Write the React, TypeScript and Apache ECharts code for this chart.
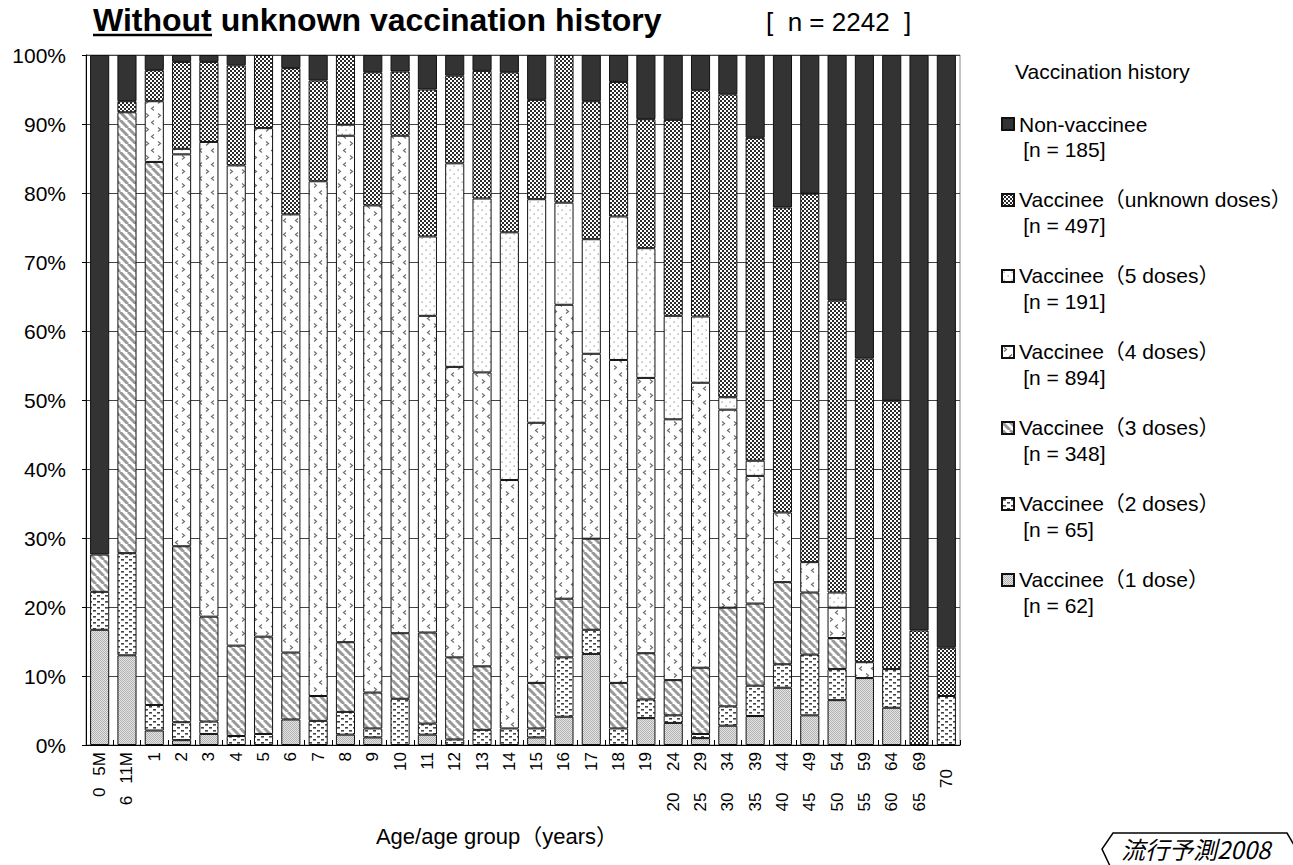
import React, { useEffect, useRef } from 'react';
import * as echarts from 'echarts';

const B = '\u3000 ';
const M = '\u2002\u2009';
const categories = [
  '0' + M + '5M', '6' + M + '11M', '1', '2', '3', '4', '5', '6', '7', '8', '9', '10',
  '11', '12', '13', '14', '15', '16', '17', '18', '19',
  '20' + B + '24', '25' + B + '29', '30' + B + '34', '35' + B + '39', '40' + B + '44',
  '45' + B + '49', '50' + B + '54', '55' + B + '59', '60' + B + '64', '65' + B + '69', '70\u3000',
];

const dose1 = [16.7, 13.0, 2.1, 0.7, 1.6, 0, 0, 3.7, 0, 1.5, 1.1, 0, 1.5, 0, 0, 0, 1.1, 4.1, 13.2, 0, 3.9, 3.2, 1.0, 2.8, 4.2, 8.3, 4.3, 6.5, 9.7, 5.4, 0, 0];
const dose2 = [5.5, 14.8, 3.7, 2.6, 1.8, 1.3, 1.6, 0, 3.5, 3.3, 1.3, 6.7, 1.6, 0.8, 2.2, 2.4, 1.3, 8.6, 3.5, 2.4, 2.7, 1.1, 0.6, 2.8, 4.4, 3.4, 8.8, 4.5, 0, 5.6, 0, 7.1];
const dose3 = [5.4, 63.9, 78.7, 25.5, 15.2, 13.1, 14.1, 9.7, 3.6, 10.1, 5.2, 9.5, 13.2, 11.9, 9.2, 0, 6.6, 8.5, 13.2, 6.6, 6.7, 5.1, 9.6, 14.3, 11.9, 11.9, 9.0, 4.5, 0, 0, 0, 0];
const dose4 = [0, 0, 8.8, 56.8, 68.8, 69.6, 73.7, 63.5, 74.6, 73.4, 70.6, 72.1, 45.9, 42.1, 42.6, 36.0, 37.7, 42.6, 26.8, 46.8, 39.9, 37.8, 41.3, 28.7, 18.5, 10.1, 4.4, 4.4, 2.3, 0, 0, 0];
const dose5 = [0, 0, 0, 0.8, 0, 0, 0, 0, 0, 1.6, 0, 0, 11.5, 29.5, 25.2, 35.9, 32.4, 14.8, 16.6, 20.8, 18.8, 15.0, 9.6, 1.8, 2.2, 0, 0, 2.2, 0, 0, 0, 0];
const unknownDoses = [0, 1.6, 4.5, 12.6, 11.6, 14.5, 10.6, 21.2, 14.6, 10.1, 19.3, 9.3, 21.3, 12.7, 18.5, 23.2, 14.4, 21.4, 20.0, 19.5, 18.7, 28.4, 32.8, 43.9, 46.8, 44.2, 53.4, 42.3, 44.0, 38.9, 16.6, 7.0];
const nonVaccinee = [72.4, 6.7, 2.2, 1.0, 1.0, 1.5, 0, 1.9, 3.7, 0, 2.5, 2.4, 5.0, 3.0, 2.3, 2.5, 6.5, 0, 6.7, 3.9, 9.3, 9.4, 5.1, 5.7, 12.0, 22.1, 20.1, 35.6, 44.0, 50.1, 83.4, 85.9];

const seriesNames = [
  'Vaccinee（1 dose）',
  'Vaccinee（2 doses）',
  'Vaccinee（3 doses）',
  'Vaccinee（4 doses）',
  'Vaccinee（5 doses）',
  'Vaccinee（unknown doses）',
  'Non-vaccinee',
];
const seriesCounts = [62, 65, 348, 894, 191, 497, 185];
const seriesData = [dose1, dose2, dose3, dose4, dose5, unknownDoses, nonVaccinee];
const yTicks = [0, 100, 10];

const FONT = '"Liberation Sans", Arial, "Noto Sans CJK JP", sans-serif';

function makeCanvas(w: number, h: number, draw: (ctx: CanvasRenderingContext2D) => void) {
  const c = document.createElement('canvas');
  c.width = w;
  c.height = h;
  const ctx = c.getContext('2d') as CanvasRenderingContext2D;
  draw(ctx);
  return { image: c, repeat: 'repeat', imageWidth: w, imageHeight: h } as any;
}

function buildPatterns() {
  const p1 = makeCanvas(2, 2, (ctx) => {
    ctx.fillStyle = '#e4e4e4';
    ctx.fillRect(0, 0, 2, 2);
    ctx.fillStyle = '#b2b2b2';
    ctx.fillRect(0, 0, 1, 1);
    ctx.fillRect(1, 1, 1, 1);
  });
  const p2 = makeCanvas(8, 6, (ctx) => {
    ctx.fillStyle = '#ffffff';
    ctx.fillRect(0, 0, 8, 6);
    ctx.fillStyle = '#444444';
    ctx.fillRect(1, 1, 3, 1.6);
    ctx.fillRect(5, 4, 3, 1.6);
  });
  const p3 = makeCanvas(8, 8, (ctx) => {
    ctx.fillStyle = '#ffffff';
    ctx.fillRect(0, 0, 8, 8);
    ctx.strokeStyle = '#9a9a9a';
    ctx.lineWidth = 3;
    ctx.beginPath();
    ctx.moveTo(-8, 0); ctx.lineTo(0, 8);
    ctx.moveTo(0, 0); ctx.lineTo(8, 8);
    ctx.moveTo(8, 0); ctx.lineTo(16, 8);
    ctx.moveTo(-4, -4); ctx.lineTo(12, 12);
    ctx.stroke();
  });
  const p4 = makeCanvas(12, 14, (ctx) => {
    ctx.fillStyle = '#ffffff';
    ctx.fillRect(0, 0, 12, 14);
    ctx.strokeStyle = '#707070';
    ctx.lineWidth = 1.2;
    ctx.beginPath();
    ctx.moveTo(2, 1.5); ctx.lineTo(4.5, 3.5); ctx.lineTo(2, 5.5);
    ctx.moveTo(10, 8.5); ctx.lineTo(7.5, 10.5); ctx.lineTo(10, 12.5);
    ctx.stroke();
  });
  const p5 = makeCanvas(8, 8, (ctx) => {
    ctx.fillStyle = '#ffffff';
    ctx.fillRect(0, 0, 8, 8);
    ctx.fillStyle = '#9a9a9a';
    ctx.fillRect(1.5, 1.5, 1.3, 1.3);
    ctx.fillRect(5.5, 5.5, 1.3, 1.3);
  });
  const pU = makeCanvas(4, 4, (ctx) => {
    ctx.fillStyle = '#ffffff';
    ctx.fillRect(0, 0, 4, 4);
    ctx.fillStyle = '#2a2a2a';
    ctx.fillRect(0, 0, 2, 2);
    ctx.fillRect(2, 2, 2, 2);
  });
  return [p1, p2, p3, p4, p5, pU, '#333333'];
}

export default function App() {
  const ref = useRef<HTMLDivElement>(null);

  useEffect(() => {
    if (!ref.current) return;
    const chart = echarts.init(ref.current, null, { renderer: 'svg' });
    const patterns = buildPatterns();

    const series = seriesNames.map((name, i) => ({
      name,
      type: 'bar',
      stack: 'total',
      barWidth: '70%',
      data: seriesData[i].map((v) => (v === 0 ? '-' : v)),
      itemStyle: {
        color: patterns[i],
        borderColor: '#111111',
        borderWidth: 1,
      },
      emphasis: { disabled: true },
    }));

    const legendOrder = [...seriesNames].reverse();

    chart.setOption({
      animation: false,
      textStyle: { fontFamily: FONT, color: '#000' },
      title: [
        {
          text: 'Without unknown vaccination history',
          left: 93,
          top: 4,
          padding: 0,
          textStyle: { fontSize: 32, fontWeight: 'bold', color: '#000', fontFamily: FONT },
        },
        {
          text: '[\u00a0\u00a0n = 2242\u00a0\u00a0]',
          left: 766,
          top: 9,
          padding: 0,
          textStyle: { fontSize: 26, fontWeight: 'normal', color: '#000', fontFamily: FONT },
        },
        {
          text: 'Vaccination history',
          left: 1015,
          top: 61,
          padding: 0,
          textStyle: { fontSize: 21, fontWeight: 'normal', color: '#000', fontFamily: FONT },
        },
      ],
      legend: {
        orient: 'vertical',
        left: 1001,
        top: 88,
        padding: 0,
        icon: 'rect',
        itemWidth: 12,
        itemHeight: 12,
        itemGap: 4,
        selectedMode: false,
        data: legendOrder,
        formatter: (name: string) => {
          const idx = seriesNames.indexOf(name);
          return '{e| }\n{a|' + name + '}\n{b|\u2009[n = ' + seriesCounts[idx] + ']}';
        },
        textStyle: {
          fontFamily: FONT,
          fontSize: 21,
          color: '#000',
          rich: {
            e: { lineHeight: 25, fontSize: 21, fontFamily: FONT },
            a: { lineHeight: 26, fontSize: 21, fontFamily: FONT, color: '#000' },
            b: { lineHeight: 25, fontSize: 21, fontFamily: FONT, color: '#000' },
          },
        },
      },
      grid: {
        left: 86,
        right: 333,
        top: 55,
        bottom: 120,
        show: true,
        borderColor: '#888888',
        borderWidth: 1,
        containLabel: false,
      },
      xAxis: {
        type: 'category',
        data: categories,
        name: 'Age/age group（years）',
        nameLocation: 'middle',
        nameGap: 80,
        nameTextStyle: { fontSize: 22, color: '#000', fontFamily: FONT, padding: [0, 52, 0, 0] },
        axisLine: { show: true, lineStyle: { color: '#000', width: 1 } },
        axisTick: { show: true, inside: true, length: 5, lineStyle: { color: '#000' } },
        axisLabel: {
          interval: 0,
          rotate: 90,
          fontSize: 17,
          color: '#000',
          margin: 7,
          fontFamily: FONT,
        },
      },
      yAxis: {
        type: 'value',
        min: yTicks[0],
        max: yTicks[1],
        interval: yTicks[2],
        axisLine: { show: true, lineStyle: { color: '#000', width: 1 } },
        axisTick: { show: true, length: 4, lineStyle: { color: '#000' } },
        axisLabel: {
          formatter: '{value}%',
          fontSize: 21,
          color: '#000',
          margin: 20,
          fontFamily: FONT,
        },
        splitLine: { show: true, lineStyle: { color: '#444444', width: 1 } },
      },
      series,
      graphic: [
        {
          type: 'line',
          shape: { x1: 93, y1: 35, x2: 212, y2: 35 },
          style: { stroke: '#000', lineWidth: 2.5 },
          silent: true,
        },
        {
          type: 'polyline',
          shape: { points: [[1110, 866], [1102, 849], [1113, 833], [1287, 833], [1294, 845]] },
          style: { stroke: '#000', lineWidth: 1.5, fill: 'none' },
          silent: true,
        },
        {
          type: 'text',
          left: 1121,
          top: 836,
          style: {
            text: '流行予測2008',
            fontSize: 24,
            fontStyle: 'italic',
            fontFamily: '"Noto Sans CJK JP", sans-serif',
            fill: '#000',
          },
          silent: true,
        },
      ],
    });

    return () => {
      chart.dispose();
    };
  }, []);

  return <div ref={ref} style={{ width: 1293, height: 865, position: 'absolute', left: 0, top: 0 }} />;
}
